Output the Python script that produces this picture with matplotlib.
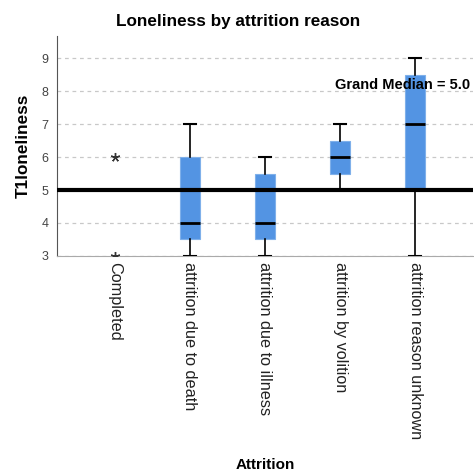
import numpy as np
import matplotlib.pyplot as plt

plt.rcParams['font.family'] = ['Liberation Sans', 'DejaVu Sans']

# attrition groups and their box summaries (T1 loneliness)
categories = ["Completed", "attrition due to death", "attrition due to illness",
              "attrition by volition", "attrition reason unknown"]
medians = [5, 4, 4, 6, 7]
q1 = [5, 3.5, 3.5, 5.5, 5]
q3 = [5, 6, 5.5, 6.5, 8.5]
whis_lo = [5, 3, 3, 5, 3]
whis_hi = [5, 7, 6, 7, 9]
outliers = [[6, 3], [], [], [], []]
grand_median = 5.0

box_color = "#5394e3"

fig = plt.figure(figsize=(4.74, 4.74), dpi=100)
ax = fig.add_axes([0.120, 0.460, 0.878, 0.464])

stats = []
for i, name in enumerate(categories):
    stats.append({
        "label": name,
        "med": medians[i],
        "q1": q1[i],
        "q3": q3[i],
        "whislo": whis_lo[i],
        "whishi": whis_hi[i],
        "fliers": outliers[i],
    })

ax.bxp(stats, positions=np.arange(1, len(categories) + 1), widths=0.27,
       patch_artist=True, showcaps=True,
       boxprops=dict(facecolor=box_color, edgecolor="#7fb0ea", linewidth=0.8),
       medianprops=dict(color="black", linewidth=2),
       whiskerprops=dict(color="black", linewidth=1.2),
       capprops=dict(color="black", linewidth=1.5),
       capwidths=0.16,
       flierprops=dict(marker=(5, 2, 0), markersize=6.5, markeredgecolor="#333333",
                       markeredgewidth=1.0, linestyle="none"),
       zorder=3)

# grand median reference line
ax.axhline(grand_median, color="black", linewidth=3, zorder=4)
ax.text(5.73, 8.17, f"Grand Median = {grand_median:.1f}", ha="right", va="center",
        fontsize=10.5, fontweight="bold", zorder=5)

ax.set_xlim(0.23, 5.77)
ax.set_ylim(3, 9.67)
ax.set_yticks([3, 4, 5, 6, 7, 8, 9])
ax.yaxis.grid(True, linestyle=(0, (3, 3)), color="#c8c8c8", linewidth=0.9, zorder=0)
ax.set_axisbelow(True)

ax.set_xticks(np.arange(1, len(categories) + 1))
ax.set_xticklabels(categories, rotation=-90, fontsize=11.7, color="#222222",
                   va="top", ha="center")
ax.tick_params(axis="both", length=0)
ax.tick_params(axis="y", labelsize=9, labelcolor="#444444", pad=6)
ax.tick_params(axis="x", pad=4)

for side in ["top", "right"]:
    ax.spines[side].set_visible(False)
ax.spines["left"].set_color("#555555")
ax.spines["bottom"].set_color("#aaaaaa")

fig.text(0.502, 0.955, "Loneliness by attrition reason", ha="center", va="center",
         fontsize=12.3, fontweight="bold")
ax.set_ylabel("T1loneliness", fontsize=12.3, fontweight="bold", labelpad=8)
fig.text(0.56, 0.018, "Attrition", ha="center", va="center", fontsize=11,
         fontweight="bold")

fig.savefig("out.png", dpi=100)
